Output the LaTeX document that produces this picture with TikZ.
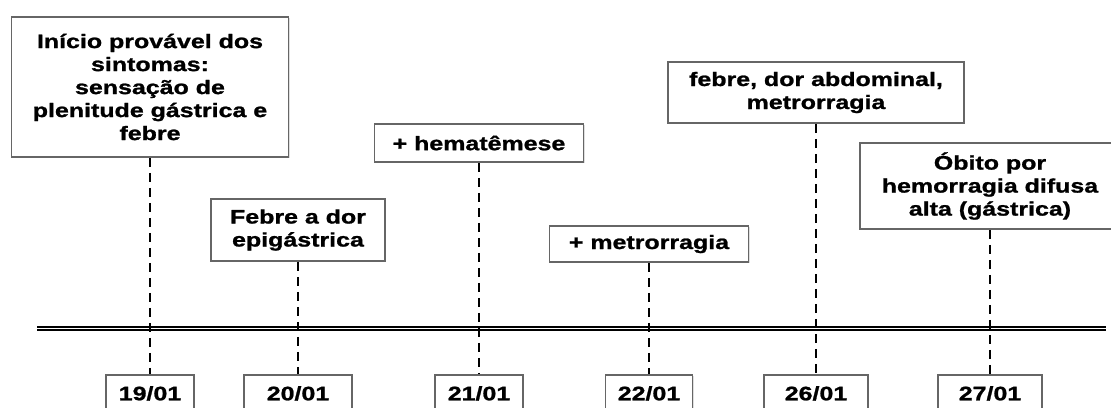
\documentclass[tikz,border=0pt]{standalone}
\usepackage{fontspec}
\setmainfont{Liberation Sans}[
    FakeStretch=1.28,
    BoldFont={Liberation Sans Bold},
    BoldFeatures={FakeStretch=1.28, FakeBold=1.2}
]
\usetikzlibrary{shadows}
\tikzset{
    evento/.style={
        draw=black!60, line width=1.8pt, fill=white, align=center, inner sep=0pt,
        font=\bfseries\fontsize{19.5}{23}\selectfont,
        drop shadow={ shadow xshift=1pt, shadow yshift=-1pt, opacity=0.25 }
    },
    data/.style={ evento, anchor=north, minimum height=37pt },
    tracejado/.style={ dash pattern=on 9pt off 6pt, line width=2.6pt }
}

\begin{document}
\begin{tikzpicture}[ x=1pt, y=-1pt ]

	\useasboundingbox (0,0) rectangle (1111,407);

	\def\ydata{374}

		\coordinate (linhaE) at (37,328.5);
		\coordinate (linhaD) at (1106,328.5);
		\draw[ double=white, double distance=1.6pt, line width=1.3pt ] (linhaE) -- (linhaD);

		\node[ evento, minimum width=277pt, minimum height=140pt ] (ev1) at (150,87) {Início provável dos\\ sintomas:\\ sensação de\\ plenitude gástrica e\\ febre};
		\node[ evento, minimum width=174pt, minimum height=62pt ] (ev2) at (298,230) {Febre a dor\\ epigástrica};
		\node[ evento, minimum width=209pt, minimum height=38pt ] (ev3) at (479,143) {+ hematêmese};
		\node[ evento, minimum width=199pt, minimum height=36pt ] (ev4) at (649,244) {+ metrorragia};
		\node[ evento, minimum width=296pt, minimum height=61pt ] (ev5) at (816,92.5) {febre, dor abdominal,\\ metrorragia};
		\node[ evento, minimum width=260pt, minimum height=86pt ] (ev6) at (990,186) {Óbito por\\ hemorragia difusa\\ alta (gástrica)};

		\node[ data, minimum width=88pt ] (d1) at (150,\ydata) {19/01};
		\node[ data, minimum width=108pt ] (d2) at (298,\ydata) {20/01};
		\node[ data, minimum width=88pt ] (d3) at (479,\ydata) {21/01};
		\node[ data, minimum width=87pt ] (d4) at (649,\ydata) {22/01};
		\node[ data, minimum width=104pt ] (d5) at (816,\ydata) {26/01};
		\node[ data, minimum width=104pt ] (d6) at (990,\ydata) {27/01};

		\draw[ tracejado ] (ev1.south) -- (d1.north);
		\draw[ tracejado ] (ev2.south) -- (d2.north);
		\draw[ tracejado ] (ev3.south) -- (d3.north);
		\draw[ tracejado ] (ev4.south) -- (d4.north);
		\draw[ tracejado ] (ev5.south) -- (d5.north);
		\draw[ tracejado ] (ev6.south) -- (d6.north);

\end{tikzpicture}
\end{document}
